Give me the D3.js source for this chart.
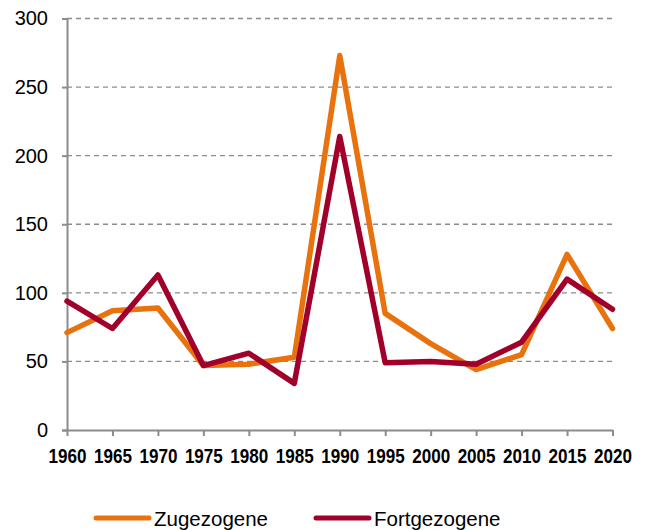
<!DOCTYPE html>
<html><head><meta charset="utf-8">
<script src="https://cdn.jsdelivr.net/npm/d3@7"></script>
<style>body{margin:0;background:#fff}svg{display:block}</style>
</head><body><svg id="c" width="653" height="530"></svg>
<script>
const years = [1960,1965,1970,1975,1980,1985,1990,1995,2000,2005,2010,2015,2020];
const zugezogene = [71,87,89,47,48,53,273,85,63,44,55,128,74];
const fortgezogene = [94,74,113,47,56,34,214,49,50,48,64,110,88];
const yTicks = [0,50,100,150,200,250,300];
const seriesNames = ["Zugezogene","Fortgezogene"];
const colors = ["#E8730E","#A0002A"];

const svg = d3.select("#c");
const x = d3.scaleLinear().domain([1960,2020]).range([67,612.5]);
const y = d3.scaleLinear().domain([0,300]).range([430,18.5]);

// grid
svg.append("g").selectAll("line").data(yTicks.filter(d=>d>0)).join("line")
  .attr("x1",67).attr("x2",612.5).attr("y1",d=>y(d)).attr("y2",d=>y(d))
  .attr("stroke","#8c8c8c").attr("stroke-width",1.3).attr("stroke-dasharray","5,4");

const yAxis = svg.append("g").attr("transform","translate(67,0)")
  .call(d3.axisLeft(y).tickValues(yTicks).tickSize(5).tickPadding(14));
yAxis.select(".domain").attr("stroke","#8c8c8c").attr("stroke-width",2);
yAxis.selectAll(".tick line").attr("stroke","#8c8c8c").attr("stroke-width",2);
yAxis.selectAll("text").attr("font-family","Liberation Sans, Arial, sans-serif").attr("font-size","20px").attr("fill","#000");

const xAxis = svg.append("g").attr("transform","translate(0,430)")
  .call(d3.axisBottom(x).tickValues(years).tickFormat(d3.format("d")).tickSize(6).tickSizeOuter(0));
xAxis.select(".domain").attr("stroke","#8c8c8c").attr("stroke-width",2);
xAxis.selectAll(".tick line").attr("stroke","#8c8c8c").attr("stroke-width",2);
xAxis.selectAll("text").attr("font-family","Liberation Sans, Arial, sans-serif").attr("font-size","20px")
  .attr("font-weight","bold").attr("fill","#000").attr("y",32.7).attr("dy",0)
  .attr("textLength",38).attr("lengthAdjust","spacingAndGlyphs");

const line = d3.line().x((d,i)=>x(years[i])).y(d=>y(d));
[zugezogene,fortgezogene].forEach((s,k)=>{
  svg.append("path").datum(s).attr("d",line).attr("fill","none")
    .attr("stroke",colors[k]).attr("stroke-width",5.5).attr("stroke-linejoin","round").attr("stroke-linecap","round");
});

// legend
const lx = [96,316];
seriesNames.forEach((n,k)=>{
  svg.append("line").attr("x1",lx[k]).attr("x2",lx[k]+53).attr("y1",518).attr("y2",518)
    .attr("stroke",colors[k]).attr("stroke-width",5).attr("stroke-linecap","round");
  svg.append("text").attr("x",lx[k]+58).attr("y",526).text(n)
    .attr("font-family","Liberation Sans, Arial, sans-serif").attr("font-size","20.5px").attr("fill","#000");
});
</script></body></html>
